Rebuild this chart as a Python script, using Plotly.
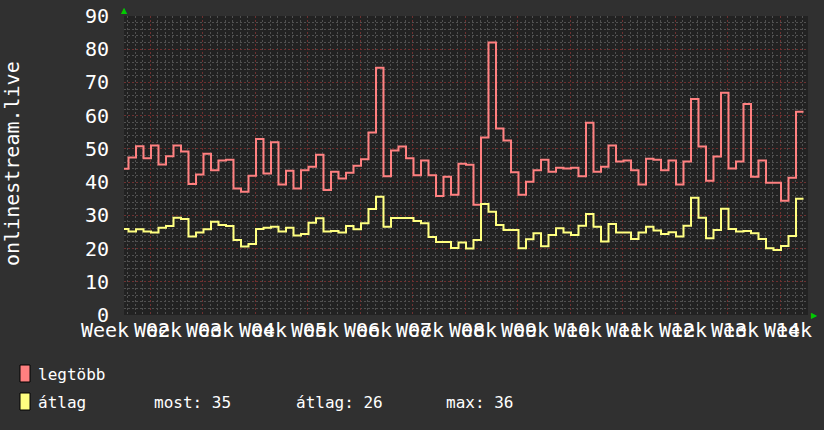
import plotly.graph_objects as go

# ---------------- data ----------------
legtobb = [44, 47.4, 50.8, 47.2, 51, 45.3, 47.8, 51, 49.2, 39.4,
           42.3, 48.5, 43.6, 46.5, 46.7, 38.1, 37.1, 41.9, 53, 42.6,
           52, 39.3, 43.4, 38.1, 43.6, 44.6, 48.2, 37.6, 43.1, 41.1,
           42.8, 44.9, 46.9, 54.9, 74.4, 41.8, 49.5, 50.7, 47.2, 42.1,
           46.5, 42.1, 35.8, 41.6, 36.2, 45.5, 45.2, 33.2, 53.4, 82,
           56.1, 52.5, 43, 36.2, 40.1, 43.6, 46.7, 43.1, 44.3, 44.1,
           44.3, 41.8, 57.9, 43.1, 44.6, 51, 46.2, 46.5, 43.6, 39.3,
           47, 46.7, 43.6, 46.5, 39.3, 46.2, 65, 50.7, 40.4, 47.7,
           66.9, 44.1, 46.2, 63.5, 41.6, 46.5, 39.8, 39.8, 34.4, 41.3,
           61.2]
atlag = [25.9, 25.1, 25.8, 25.1, 24.8, 26.3, 26.8, 29.3, 28.9, 23.6,
         24.8, 25.8, 28.1, 27.1, 26.8, 22.6, 20.6, 21.4, 25.9, 26.3,
         26.6, 25.1, 26.3, 23.9, 24.4, 27.8, 29.1, 25.1, 25.3, 24.8,
         26.8, 25.8, 27.6, 31.9, 35.6, 26.6, 29.2, 29.2, 29.2, 28.3,
         27.6, 23.5, 22.0, 22.0, 20.2, 21.8, 20.0, 22.6, 33.4, 31.1,
         27.1, 25.6, 25.6, 20.1, 22.8, 24.6, 20.7, 24.1, 26.1, 24.8,
         24.1, 26.9, 30.4, 26.6, 22.1, 27.4, 24.8, 24.8, 22.9, 24.8,
         26.6, 25.4, 24.4, 24.9, 23.6, 26.9, 35.3, 29.3, 23.1, 25.6,
         32, 25.9, 25.1, 25.3, 24.6, 22.9, 20.1, 19.6, 20.8, 23.8,
         35]
y_ticks = [0, 10, 20, 30, 40, 50, 60, 70, 80, 90]
week_word = "Week"
week_numbers = ["", "02", "03", "04", "05", "06", "07", "08", "09", "10",
                "11", "12", "13", "14"]
y_title = "onlinestream.live"
legend_names = ["legtöbb", "átlag"]
stats = ["most: 35", "átlag: 26", "max: 36"]

# ---------------- style ----------------
PINK = "#ff8080"
YELLOW = "#ffff80"
PAPER = "#303030"
PLOT = "#222222"
MONO = "DejaVu Sans Mono"

W, H = 824, 430
L, R, T, B = 124, 16, 16, 115
pw, ph = W - L - R, H - T - B
X_RANGE = [0.4, 91.6]


def px_x(px):
    return (px - L) / pw


def px_y(py):
    return (H - B - py) / ph


def day_to_paper(d):
    return (d - X_RANGE[0]) / (X_RANGE[1] - X_RANGE[0])


days = list(range(len(legtobb) + 1))

fig = go.Figure()
for vals, col in ((legtobb, PINK), (atlag, YELLOW)):
    fig.add_trace(go.Scatter(
        x=days, y=vals + [vals[-1]], mode="lines",
        line=dict(color=col, width=2, shape="hv"),
        hoverinfo="skip", showlegend=False))

first_label_day = -2.07
label_days = [first_label_day + 7 * k for k in range(len(week_numbers))]

annotations = []
for d, num in zip(label_days, week_numbers):
    for txt in (week_word, num):
        if not txt:
            continue
        annotations.append(dict(
            x=day_to_paper(d), xref="paper", y=px_y(330), yref="paper",
            text=txt, showarrow=False, xanchor="center", yanchor="middle",
            font=dict(family=MONO, size=20, color="white")))

annotations.append(dict(
    x=px_x(12), xref="paper", y=px_y(164), yref="paper", text=y_title,
    textangle=-90, showarrow=False, xanchor="center", yanchor="middle",
    font=dict(family=MONO, size=20, color="white")))

# legend
leg_rows = [374, 402]
for name, row in zip(legend_names, leg_rows):
    annotations.append(dict(
        x=px_x(36), xref="paper", y=px_y(row), yref="paper", text=name,
        showarrow=False, xanchor="left", yanchor="middle",
        font=dict(family=MONO, size=16, color="white")))
for txt, xpos in zip(stats, [152, 294, 444]):
    annotations.append(dict(
        x=px_x(xpos), xref="paper", y=px_y(leg_rows[1]), yref="paper",
        text=txt, showarrow=False, xanchor="left", yanchor="middle",
        font=dict(family=MONO, size=16, color="white")))

# green arrows
annotations.append(dict(
    x=px_x(124.5), xref="paper", y=px_y(10), yref="paper", text="▲",
    showarrow=False, xanchor="center", yanchor="middle",
    font=dict(family="DejaVu Sans", size=8, color="#00cc00")))
annotations.append(dict(
    x=px_x(814), xref="paper", y=px_y(315), yref="paper", text="▶",
    showarrow=False, xanchor="center", yanchor="middle",
    font=dict(family="DejaVu Sans", size=8, color="#00cc00")))

shapes = []
for col, row in zip((PINK, YELLOW), leg_rows):
    shapes.append(dict(
        type="rect", xref="paper", yref="paper",
        x0=px_x(20), x1=px_x(30), y0=px_y(row + 8), y1=px_y(row - 9),
        fillcolor=col, line=dict(color="black", width=1)))

GRID_MAJOR = "#6e3030"
GRID_MINOR = "#505050"

fig.update_layout(
    width=W, height=H, autosize=False,
    margin=dict(l=L, r=R, t=T, b=B, pad=0, autoexpand=False),
    paper_bgcolor=PAPER, plot_bgcolor=PLOT,
    annotations=annotations, shapes=shapes,
    xaxis=dict(range=X_RANGE, tick0=3.9, dtick=7, automargin=False,
               showticklabels=False, zeroline=False,
               showgrid=True, gridcolor=GRID_MAJOR, griddash="2px,2px",
               gridwidth=1,
               minor=dict(tick0=3.9, dtick=1, showgrid=True,
                          gridcolor=GRID_MINOR, griddash="2px,2px")),
    yaxis=dict(range=[0, 90], tickvals=y_ticks, automargin=False,
               ticktext=[str(v) for v in y_ticks],
               tickfont=dict(family=MONO, size=20, color="white"),
               ticklabelstandoff=14, zeroline=False,
               showgrid=True, gridcolor=GRID_MAJOR, griddash="2px,2px",
               minor=dict(dtick=2, showgrid=True,
                          gridcolor=GRID_MINOR, griddash="2px,2px")),
)

fig.write_html(
    "out.html",
    config={"displayModeBar": False, "staticPlot": True},
    post_script="document.body.style.margin='0px';"
                "document.body.style.background='" + PAPER + "';")
